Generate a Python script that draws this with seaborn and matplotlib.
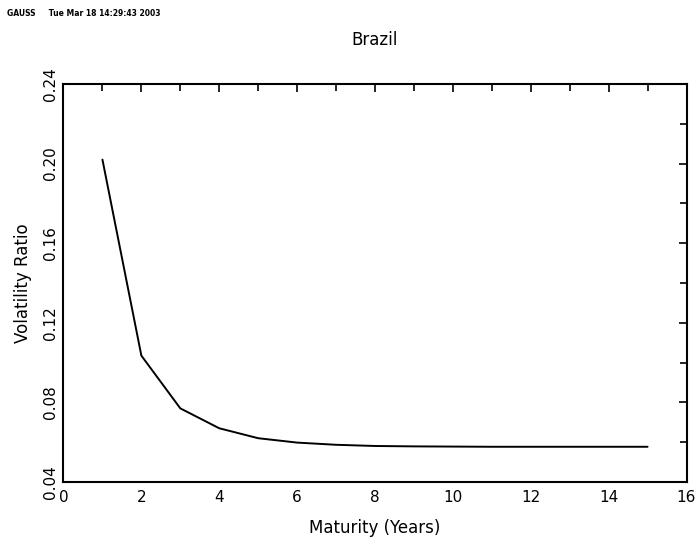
import matplotlib
matplotlib.use("Agg")
import matplotlib.pyplot as plt
from matplotlib.ticker import MultipleLocator
import seaborn as sns
import pandas as pd

sns.set_theme(style="white")
plt.rcParams["font.family"] = ["DejaVu Sans"]

# Volatility ratio by maturity
maturity = [1, 2, 3, 4, 5, 6, 7, 8, 9, 10, 11, 12, 13, 14, 15]
vol_ratio = [0.202, 0.1035, 0.077, 0.067, 0.062, 0.0598, 0.0587, 0.0581,
             0.0579, 0.0578, 0.0577, 0.0577, 0.0577, 0.0577, 0.0577]
x_ticks = [0, 2, 4, 6, 8, 10, 12, 14, 16]
y_ticks = [0.04, 0.08, 0.12, 0.16, 0.20, 0.24]

df = pd.DataFrame({"Maturity": maturity, "Ratio": vol_ratio})

fig = plt.figure(figsize=(6.99, 5.42), dpi=100)
ax = fig.add_axes([63.5 / 699, 1 - 482 / 542, 623 / 699, 398 / 542])

sns.lineplot(data=df, x="Maturity", y="Ratio", ax=ax, color="black",
             linewidth=1.4)

ax.set_xlim(0, 16)
ax.set_ylim(0.04, 0.24)
ax.set_xticks(x_ticks)
ax.set_xticklabels([str(t) for t in x_ticks])
ax.set_yticks(y_ticks)
ax.set_yticklabels([f"{t:.2f}" for t in y_ticks], rotation=90, va="center")
ax.xaxis.set_minor_locator(MultipleLocator(1))
ax.yaxis.set_minor_locator(MultipleLocator(0.02))

ax.tick_params(axis="both", which="both", direction="in", top=True,
               right=True, color="black", width=1.2, labelsize=11,
               labelcolor="black")
ax.tick_params(axis="both", which="major", length=6)
ax.tick_params(axis="both", which="minor", length=5)
ax.tick_params(axis="x", which="major", pad=6)
ax.tick_params(axis="y", which="major", pad=4)
ax.tick_params(axis="both", which="both", labeltop=False, labelright=False)

for side in ax.spines.values():
    side.set_color("black")
    side.set_linewidth(1.5)

ax.set_xlabel("Maturity (Years)", fontsize=12, color="black", labelpad=10)
ax.set_ylabel("Volatility Ratio", fontsize=12, color="black", labelpad=8)
ax.set_title("Brazil", fontsize=12, color="black", pad=28)

fig.text(7 / 699, 1 - 13 / 542, "GAUSS     Tue Mar 18 14:29:43 2003",
         fontsize=5.5, fontweight="bold", color="black", va="center")

fig.savefig("out.png", dpi=100, facecolor="white")
